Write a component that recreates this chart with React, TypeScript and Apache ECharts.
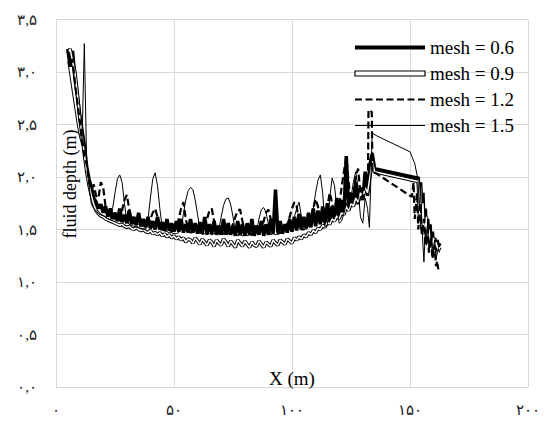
import React, { useEffect, useRef } from "react";
import * as echarts from "echarts";

// Shared x grid for the main part of every profile (m)
const xMain = [
  5, 6, 7, 8, 9, 10, 11, 12, 13, 14,
  15, 16, 17, 18, 19, 20, 21, 22, 23, 24,
  25, 26, 27, 28, 29, 30, 31, 32, 33, 34,
  35, 36, 37, 38, 39, 40, 41, 42, 43, 44,
  45, 46, 47, 48, 49, 50, 51, 52, 53, 54,
  55, 56, 57, 58, 59, 60, 61, 62, 63, 64,
  65, 66, 67, 68, 69, 70, 71, 72, 73, 74,
  75, 76, 77, 78, 79, 80, 81, 82, 83, 84,
  85, 86, 87, 88, 89, 90, 91, 92, 93, 94,
  95, 96, 97, 98, 99, 100, 101, 102, 103, 104,
  105, 106, 107, 108, 109, 110, 111, 112, 113, 114,
  115, 116, 117, 118, 119, 120, 121, 122, 123, 124,
  125, 126, 127, 128, 129, 130, 131,
];

// mesh = 0.6
const m06Main = [
  3.22, 3.05, 3.2, 2.95, 2.78, 2.6, 2.45, 2.3, 2.1, 1.98,
  1.9, 1.8, 1.76, 1.7, 1.74, 1.66, 1.72, 1.62, 1.7, 1.6,
  1.66, 1.58, 1.7, 1.57, 1.64, 1.56, 1.68, 1.55, 1.62, 1.54,
  1.66, 1.53, 1.6, 1.52, 1.62, 1.51, 1.58, 1.5, 1.62, 1.5,
  1.57, 1.49, 1.6, 1.49, 1.56, 1.48, 1.58, 1.48, 1.6, 1.47,
  1.55, 1.47, 1.6, 1.47, 1.56, 1.46, 1.57, 1.46, 1.62, 1.46,
  1.55, 1.46, 1.58, 1.45, 1.54, 1.45, 1.6, 1.45, 1.56, 1.45,
  1.53, 1.44, 1.58, 1.45, 1.55, 1.44, 1.56, 1.45, 1.6, 1.44,
  1.54, 1.45, 1.58, 1.44, 1.55, 1.45, 1.6, 1.46, 1.88, 1.47,
  1.58, 1.46, 1.55, 1.47, 1.6, 1.48, 1.62, 1.49, 1.65, 1.5,
  1.62, 1.51, 1.66, 1.52, 1.7, 1.53, 1.68, 1.55, 1.72, 1.56,
  1.75, 1.58, 1.72, 1.6, 1.8, 1.62, 1.78, 1.64, 2.2, 1.7,
  1.85, 1.72, 1.95, 1.74, 1.9, 1.78, 2.05,
];
const m06TailX = [132, 133, 134, 135, 153, 153.5, 154, 154.5, 155, 155.5, 156, 156.5, 157, 157.5, 158, 158.5, 159, 159.5, 160, 160.5, 161, 161.5, 162, 162.7];
const m06TailY = [1.82, 2.12, 2.22, 2.08, 1.99, 2.0, 1.7, 1.95, 1.6, 1.85, 1.5, 1.7, 1.45, 1.6, 1.4, 1.55, 1.35, 1.48, 1.32, 1.42, 1.3, 1.4, 1.34, 1.37];

// mesh = 0.9
const m09Main = [
  3.18, 3.22, 3.1, 3.0, 2.8, 2.58, 2.4, 2.22, 2.05, 1.92,
  1.82, 1.74, 1.68, 1.65, 1.63, 1.62, 1.6, 1.59, 1.58, 1.57,
  1.56, 1.55, 1.54, 1.55, 1.53, 1.52, 1.53, 1.51, 1.5, 1.52,
  1.5, 1.49, 1.5, 1.48, 1.47, 1.49, 1.46, 1.47, 1.45, 1.47,
  1.44, 1.46, 1.43, 1.45, 1.42, 1.44, 1.41, 1.43, 1.4, 1.42,
  1.38, 1.41, 1.4, 1.37, 1.42, 1.39, 1.36, 1.41, 1.38, 1.35,
  1.4, 1.38, 1.34, 1.4, 1.37, 1.35, 1.41, 1.38, 1.34, 1.39,
  1.36, 1.33, 1.4, 1.37, 1.34, 1.39, 1.36, 1.33, 1.38, 1.35,
  1.34, 1.39, 1.36, 1.33, 1.38, 1.36, 1.34, 1.4, 1.37, 1.35,
  1.4, 1.38, 1.36, 1.41, 1.39, 1.37, 1.42, 1.4, 1.43, 1.41,
  1.45, 1.43, 1.47, 1.45, 1.49, 1.47, 1.51, 1.5, 1.54, 1.52,
  1.57, 1.55, 1.6, 1.58, 1.63, 1.6, 1.66, 1.64, 1.72, 1.68,
  1.75, 1.72, 1.8, 1.76, 1.85, 1.8, 1.9,
];
const m09TailX = [132, 133, 134, 135, 153, 153.5, 154, 154.5, 155, 155.5, 156, 157, 157.5, 158, 159, 160, 160.5, 161, 162, 162.7];
const m09TailY = [1.85, 2.0, 2.15, 2.05, 1.96, 1.97, 1.62, 1.9, 1.5, 1.75, 1.45, 1.62, 1.38, 1.5, 1.33, 1.42, 1.28, 1.38, 1.3, 1.33];

// mesh = 1.2
const m12Main = [
  3.2, 3.1, 3.12, 2.9, 2.72, 2.55, 2.38, 2.2, 2.12, 1.95,
  1.88, 1.93, 1.82, 1.8, 1.95, 1.9, 1.72, 1.66, 1.64, 1.62,
  1.6, 1.62, 1.58, 1.68, 1.78, 1.83, 1.7, 1.58, 1.56, 1.55,
  1.54, 1.56, 1.53, 1.52, 1.55, 1.6, 1.66, 1.7, 1.62, 1.5,
  1.5, 1.49, 1.5, 1.49, 1.48, 1.5, 1.52, 1.6, 1.7, 1.76,
  1.6, 1.5, 1.47, 1.48, 1.47, 1.49, 1.47, 1.48, 1.52, 1.6,
  1.68, 1.7, 1.58, 1.48, 1.46, 1.47, 1.46, 1.47, 1.46, 1.5,
  1.55, 1.62, 1.68, 1.69, 1.58, 1.47, 1.46, 1.45, 1.46, 1.47,
  1.45, 1.47, 1.5, 1.58, 1.66, 1.69, 1.6, 1.48, 1.47, 1.46,
  1.47, 1.48, 1.5, 1.55, 1.62, 1.7, 1.76, 1.72, 1.55, 1.5,
  1.5, 1.52, 1.55, 1.6, 1.7, 1.79, 1.72, 1.6, 1.58, 1.62,
  1.72, 1.85, 1.75, 1.64, 1.68, 1.72, 1.9, 2.05, 2.19, 1.95,
  1.75, 1.82, 2.0, 2.08, 1.85, 1.8, 1.95,
];
const m12TailX = [132.2, 132.4, 133.8, 134.1, 136, 150.8, 151.5, 152, 153, 153.5, 154.5, 155, 156, 156.5, 157.5, 158, 159, 159.5, 160.5, 161, 161.5, 162];
const m12TailY = [2.0, 2.64, 2.62, 2.05, 2.03, 1.81, 1.95, 1.6, 1.85, 1.5, 1.75, 1.45, 1.6, 1.35, 1.5, 1.28, 1.42, 1.22, 1.35, 1.15, 1.2, 1.12];

// mesh = 1.5
const m15Main = [
  3.1, 2.95, 2.8, 2.65, 2.5, 2.38, 2.3, 3.27, 2.12, 1.92,
  1.74, 1.7, 1.68, 1.65, 1.64, 1.63, 1.62, 1.6, 1.59, 1.7,
  1.85, 1.98, 2.02, 1.95, 1.75, 1.58, 1.55, 1.54, 1.53, 1.52,
  1.52, 1.51, 1.5, 1.5, 1.6, 1.8, 1.98, 2.04, 1.92, 1.7,
  1.52, 1.49, 1.48, 1.47, 1.47, 1.46, 1.46, 1.47, 1.5, 1.65,
  1.78, 1.87, 1.9, 1.88, 1.78, 1.64, 1.5, 1.45, 1.46, 1.45,
  1.46, 1.45, 1.46, 1.46, 1.5, 1.62, 1.73, 1.79, 1.8, 1.74,
  1.62, 1.48, 1.44, 1.45, 1.44, 1.45, 1.44, 1.45, 1.44, 1.46,
  1.48, 1.6, 1.69, 1.71, 1.66, 1.55, 1.45, 1.46, 1.45, 1.46,
  1.47, 1.48, 1.5, 1.52, 1.5, 1.55, 1.62, 1.7, 1.76, 1.62,
  1.52, 1.5, 1.53, 1.58, 1.7, 1.85, 1.97, 2.02, 1.85, 1.52,
  1.55, 1.8, 1.99, 1.92, 1.7, 1.56, 1.58, 1.65, 1.75, 1.7,
  1.8, 1.95, 2.05, 1.9, 1.62, 1.56, 1.8,
];
const m15TailX = [132, 132.8, 134, 135.2, 150, 152, 153.4, 154, 154.5, 155, 155.9, 156.5, 157, 157.5, 158, 159, 159.5, 160.5, 161, 162, 162.5];
const m15TailY = [1.7, 1.52, 2.42, 2.4, 2.24, 2.13, 1.97, 1.7, 1.9, 1.55, 1.19, 1.5, 1.35, 1.6, 1.3, 1.45, 1.25, 1.4, 1.22, 1.32, 1.28];

const seriesNames = ["mesh = 0.6", "mesh = 0.9", "mesh = 1.2", "mesh = 1.5"];
const yTickLabels = ["۰,۰", "۰,۵", "۱,۰", "۱,۵", "۲,۰", "۲,۵", "۳,۰", "۳,۵"];
const xTickLabels = ["۰", "۵۰", "۱۰۰", "۱۵۰", "۲۰۰"];
const xTitle = "X (m)";
const yTitle = "fluid depth (m)";

const SERIF = "'Times New Roman', 'Liberation Serif', serif";

function pairs(xs: number[], ys: number[]): number[][] {
  return xs.map((x, i) => [x, ys[i]]);
}

export default function App() {
  const ref = useRef<HTMLDivElement>(null);

  useEffect(() => {
    if (!ref.current) return;
    const chart = echarts.init(ref.current, undefined, { renderer: "svg" });

    const d06 = pairs(xMain, m06Main).concat(pairs(m06TailX, m06TailY));
    const d09 = pairs(xMain, m09Main).concat(pairs(m09TailX, m09TailY));
    const d12 = pairs(xMain, m12Main).concat(pairs(m12TailX, m12TailY));
    const d15 = pairs(xMain, m15Main).concat(pairs(m15TailX, m15TailY));

    chart.setOption({
      animation: false,
      backgroundColor: "#fff",
      grid: { left: 56, right: 16, top: 19.5, bottom: 36, containLabel: false, outerBoundsMode: "none" },
      legend: {
        data: [
          { name: seriesNames[0], lineStyle: { width: 4, color: "#000" } },
          {
            name: seriesNames[1],
            icon: "rect",
            itemStyle: { color: "#fff", borderColor: "#000", borderWidth: 1.2, opacity: 1 },
          },
          { name: seriesNames[2], lineStyle: { width: 2.2, color: "#000", type: [7, 3.5] } },
          { name: seriesNames[3], lineStyle: { width: 1, color: "#000" } },
        ],
        orient: "vertical",
        left: 353,
        top: 38,
        padding: 0,
        itemWidth: 70,
        itemHeight: 5,
        itemGap: 7,
        itemStyle: { opacity: 0 },
        textStyle: { fontFamily: SERIF, fontSize: 19, color: "#000" },
        selectedMode: false,
      },
      xAxis: {
        type: "value",
        min: 0,
        max: 200,
        interval: 50,
        axisLine: { show: false },
        axisTick: { show: false },
        axisLabel: {
          margin: 15,
          fontSize: 15,
          color: "#222",
          fontFamily: SERIF,
          formatter: (v: number) => xTickLabels[Math.round(v / 50)] ?? "",
        },
        splitLine: { show: true, lineStyle: { color: "#d9d9d9", width: 1 } },
      },
      yAxis: {
        type: "value",
        min: 0,
        max: 3.5,
        interval: 0.5,
        axisLine: { show: false },
        axisTick: { show: false },
        axisLabel: {
          margin: 19,
          fontSize: 15,
          color: "#222",
          fontFamily: SERIF,
          formatter: (v: number) => yTickLabels[Math.round(v / 0.5)] ?? "",
        },
        splitLine: { show: true, lineStyle: { color: "#d9d9d9", width: 1 } },
      },
      graphic: [
        {
          type: "text",
          x: 70,
          y: 184,
          rotation: Math.PI / 2,
          z: 100,
          style: {
            text: yTitle,
            fontFamily: SERIF,
            fontSize: 18,
            fill: "#000",
            align: "center",
            verticalAlign: "middle",
          },
        },
        {
          type: "text",
          x: 292,
          y: 378,
          z: 100,
          style: {
            text: xTitle,
            fontFamily: SERIF,
            fontSize: 19,
            fill: "#000",
            align: "center",
            verticalAlign: "middle",
          },
        },
      ],
      series: [
        {
          name: seriesNames[0],
          type: "line",
          data: d06,
          symbol: "none",
          lineStyle: { color: "#000", width: 3.5 },
          itemStyle: { color: "#000" },
        },
        {
          name: "mesh = 0.9 outline",
          type: "line",
          data: d09,
          symbol: "none",
          lineStyle: { color: "#000", width: 3.5 },
          itemStyle: { color: "#000" },
        },
        {
          name: seriesNames[1],
          type: "line",
          data: d09,
          symbol: "none",
          lineStyle: { color: "#fff", width: 1.5 },
          itemStyle: { color: "#fff" },
        },
        {
          name: seriesNames[2],
          type: "line",
          data: d12,
          symbol: "none",
          lineStyle: { color: "#000", width: 2.2, type: [7, 3.5] },
          itemStyle: { color: "#000" },
        },
        {
          name: seriesNames[3],
          type: "line",
          data: d15,
          symbol: "none",
          lineStyle: { color: "#000", width: 1 },
          itemStyle: { color: "#000" },
        },
      ],
    });

    return () => {
      chart.dispose();
    };
  }, []);

  return (
    <div
      ref={ref}
      style={{ position: "fixed", left: 0, top: 0, width: 544, height: 423, background: "#fff" }}
    />
  );
}
